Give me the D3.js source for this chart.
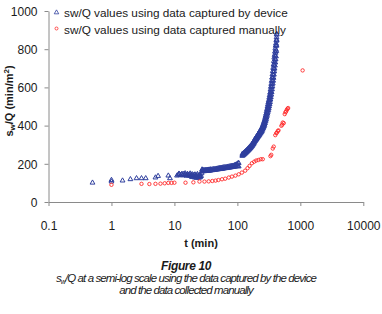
<!DOCTYPE html>
<html>
<head>
<meta charset="utf-8">
<script src="https://cdn.jsdelivr.net/npm/d3@7"></script>
<style>
  html, body { margin: 0; padding: 0; background: #ffffff; }
  svg { display: block; }
</style>
</head>
<body>
<div id="chart"></div>
<script>
// ---------------- DATA ----------------
const seriesNames = ["sw/Q values using data captured by device", "sw/Q values using data captured manually"];
const xTickValues = [0.1, 1, 10, 100, 1000, 10000];
const xTickLabels = ["0.1", "1", "10", "100", "1000", "10000"];
const yTickValues = [0, 200, 400, 600, 800, 1000];
const yTickLabels = ["0", "200", "400", "600", "800", "1000"];

// Device: early sparse readings
const deviceT1 = [0.5, 1, 1, 1.5, 2, 2.5, 3, 3.5, 5, 5.5, 8, 8.5];
const deviceV1 = [101, 107, 115, 112, 119, 124, 124, 124, 128, 136, 138, 124];

// Device: dense ragged readings 11-27 min
const deviceT2 = [11, 11.5, 11.8, 12, 12.5, 13, 13.2, 13.5, 14, 14.5, 14.8, 15, 15.5, 16, 16.2, 16.5, 17, 17.5, 17.8, 18, 18.5, 19, 19.2, 19.5, 20, 20.5, 21, 21.2, 21.5, 22, 22.5, 23, 23.2, 23.5, 24, 24.5, 25, 25.2, 25.5, 26, 26.5, 27];
const deviceV2 = [138, 142, 148, 145, 140, 144, 147, 139, 146, 141, 150, 143, 137, 145, 146, 140, 138, 144, 149, 136, 141, 130, 145, 139, 134, 142, 128, 144, 137, 132, 126, 140, 146, 131, 135, 127, 138, 143, 129, 133, 136, 150];

// Device: first rising band 27-105 min (upper and lower rows of readings)
const deviceT3 = [27.5, 28, 29, 30, 31, 32, 33, 34, 35, 36, 37, 38, 40, 42, 44, 46, 48, 50, 52, 54, 56, 58, 60, 63, 66, 69, 72, 75, 78, 81, 84, 87, 90, 93, 96, 99, 102, 105];
const deviceV3a = [170, 168, 166, 166, 167, 167, 168, 168, 169, 169, 170, 170, 171, 172, 173, 174, 175, 176, 177, 178, 179, 180, 181, 182, 183, 184, 185, 186, 187, 188, 189, 190, 192, 194, 196, 198, 202, 204];
const deviceV3b = [162, 160, 161, 161, 162, 162, 163, 163, 164, 164, 165, 165, 166, 167, 168, 169, 170, 171, 172, 172, 173, 174, 175, 176, 177, 178, 179, 180, 181, 182, 183, 184, 185, 186, 187, 188, 187, 186];

// Device: second steep band 120-422 min (centre, upper-left and lower-right rows)
const deviceT4 = [120, 125, 130, 135, 140, 145, 150, 155, 160, 165, 170, 175, 180, 185, 190, 195, 200, 205, 210, 215, 220, 225, 230, 235, 240, 245, 250, 255, 260, 265, 270, 275, 280, 285, 290, 295, 300, 305, 310, 315, 320, 325, 330, 335, 340, 345, 350, 355, 360, 365, 370, 375, 380, 385, 390, 395, 400, 405, 410, 415, 419, 422];
const deviceV4a = [246, 250, 255, 260, 265, 270, 275, 280, 285, 290, 296, 302, 309, 316, 323, 328, 333, 338, 344, 350, 354, 359, 364, 369, 374, 379, 386, 393, 400, 407, 415, 425, 435, 445, 456, 467, 479, 490, 500, 510, 522, 534, 546, 560, 574, 588, 602, 618, 634, 650, 666, 682, 700, 718, 731, 748, 765, 781, 797, 822, 850, 876];
const deviceV4b = [252, 256, 261, 266, 271, 276, 281, 286, 291, 296, 302, 308, 315, 322, 329, 335, 340, 345, 351, 357, 362, 367, 373, 378, 383, 389, 396, 404, 412, 420, 429, 440, 451, 462, 474, 486, 499, 511, 522, 533, 546, 559, 572, 588, 603, 618, 634, 651, 668, 685, 702, 719, 738, 756, 770, 787, 803, 818, 830, 845, 862, 880];
const deviceV4c = [241, 245, 250, 255, 260, 265, 270, 275, 280, 285, 291, 296, 303, 310, 317, 322, 327, 332, 338, 343, 347, 352, 357, 362, 366, 371, 378, 384, 390, 397, 404, 413, 422, 431, 441, 451, 462, 472, 481, 490, 501, 512, 523, 536, 549, 562, 575, 590, 605, 620, 635, 650, 667, 684, 698, 714, 730, 746, 762, 790, 818, 845];

// Manual readings
const manualT = [1, 3, 4, 5, 6, 7, 8, 9, 10, 15, 20, 25, 30, 35, 40, 45, 50, 57, 64, 73, 82, 93, 105, 118, 133, 145, 156, 170, 185, 199, 216, 235, 253, 335, 345, 365, 378, 400, 415, 425, 440, 450, 500, 515, 525, 545, 565, 580, 595, 610, 625, 640, 1087];
const manualV = [90, 95, 94, 95, 96, 98, 100, 100, 101, 101, 103, 107, 107, 108, 110, 112, 115, 119, 122, 128, 133, 138, 145, 154, 164, 177, 189, 203, 211, 217, 220, 224, 224, 240, 247, 280, 290, 350, 360, 364, 372, 375, 399, 405, 416, 413, 460, 470, 474, 483, 488, 492, 689];

// ---------------- BUILD ----------------
function pairs(ts, vs) { return ts.map((t, i) => ({ t: t, v: vs[i] })); }
const deviceData = [].concat(
  pairs(deviceT1, deviceV1),
  pairs(deviceT2, deviceV2),
  pairs(deviceT3, deviceV3a),
  pairs(deviceT3, deviceV3b),
  pairs(deviceT4, deviceV4a),
  pairs(deviceT4, deviceV4b),
  pairs(deviceT4, deviceV4c)
);
const manualData = pairs(manualT, manualV);

const W = 382, H = 314;
const blue = "#2f3f9e", red = "#ff2a2a", axisCol = "#8a8a8a";
const svg = d3.select("#chart").append("svg").attr("width", W).attr("height", H)
  .style("font-family", "'Liberation Sans', Arial, sans-serif");

const x = d3.scaleLog().domain([0.1, 10000]).range([48.5, 363.3]);
const y = d3.scaleLinear().domain([0, 1000]).range([202, 11]);

// axes
const xAxis = d3.axisBottom(x).tickValues(xTickValues).tickFormat((d, i) => xTickLabels[i]).tickSize(4).tickSizeOuter(0);
const yAxis = d3.axisLeft(y).tickValues(yTickValues).tickFormat((d, i) => yTickLabels[i]).tickSize(4).tickSizeOuter(0);

const gx = svg.append("g").attr("transform", "translate(0,202)").call(xAxis);
const gy = svg.append("g").attr("transform", "translate(48.5,0)").call(yAxis);
[gx, gy].forEach(g => {
  g.select(".domain").attr("stroke", axisCol).attr("stroke-width", 1);
  g.selectAll(".tick line").attr("stroke", axisCol);
  g.selectAll(".tick text").attr("fill", "#1a1a1a").style("font-size", "12px")
    .style("font-family", "'Liberation Sans', Arial, sans-serif");
});
gx.selectAll(".tick text").attr("dy", "0").attr("y", 28);
gy.selectAll(".tick text").attr("x", -11).attr("dy", "0.36em");

// data marks
const tri = d3.symbol().type(d3.symbolTriangle).size(10);
svg.append("g").selectAll("path").data(deviceData).join("path")
  .attr("d", tri)
  .attr("transform", d => `translate(${x(d.t)},${y(d.v)})`)
  .attr("fill", "none").attr("stroke", blue).attr("stroke-width", 1);

svg.append("g").selectAll("circle").data(manualData).join("circle")
  .attr("cx", d => x(d.t)).attr("cy", d => y(d.v)).attr("r", 1.7)
  .attr("fill", "none").attr("stroke", red).attr("stroke-width", 0.9);

// legend
const leg = svg.append("g");
leg.append("path").attr("d", d3.symbol().type(d3.symbolTriangle).size(9))
  .attr("transform", "translate(56.5,12.5)").attr("fill", "none").attr("stroke", blue).attr("stroke-width", 0.8);
leg.append("circle").attr("cx", 56.5).attr("cy", 28.5).attr("r", 1.5)
  .attr("fill", "none").attr("stroke", red).attr("stroke-width", 0.8);
leg.selectAll("text").data(seriesNames).join("text")
  .attr("x", 64).attr("y", (d, i) => 17 + i * 16.5)
  .style("font-size", "11.5px").attr("fill", "#1a1a1a")
  .text(d => d);

function fit(sel, target) {
  const node = sel.node();
  const fs = parseFloat(sel.style("font-size"));
  const w = node.getComputedTextLength();
  if (w > 0) sel.style("font-size", (fs * target / w).toFixed(2) + "px");
}
function fitSpacing(sel, target, nChars) {
  const w = sel.node().getComputedTextLength();
  if (w > 0) sel.style("letter-spacing", ((target - w) / nChars).toFixed(3) + "px");
}
leg.selectAll("text").each(function (d, i) { fit(d3.select(this), i === 0 ? 224 : 222); });

// axis titles
const yt = svg.append("text")
  .attr("transform", "translate(13,101) rotate(-90)")
  .attr("text-anchor", "middle").style("font-size", "11px").style("font-weight", "bold").attr("fill", "#1a1a1a");
yt.append("tspan").text("s");
yt.append("tspan").attr("dy", "2").style("font-size", "8px").text("w");
yt.append("tspan").attr("dy", "-2").text("/Q (min/m");
yt.append("tspan").attr("dy", "-4").style("font-size", "8px").text("2");
yt.append("tspan").attr("dy", "4").text(")");

svg.append("text").attr("x", 201).attr("y", 247).attr("text-anchor", "middle")
  .style("font-size", "11px").style("font-weight", "bold").attr("fill", "#1a1a1a").text("t (min)");

// caption
const capFont = "'Liberation Sans Narrow', 'Liberation Sans', sans-serif";
const fig = svg.append("text").attr("x", 186).attr("y", 270).attr("text-anchor", "middle")
  .style("font-family", "'Liberation Sans', sans-serif").style("font-size", "12px").style("font-weight", "bold").style("font-style", "italic")
  .attr("fill", "#1a1a1a").text("Figure 10");
fitSpacing(fig, 50, 9);

const line1 = "/Q at a semi-log scale using the data captured by the device";
const c1 = svg.append("text").attr("x", 186).attr("y", 282).attr("text-anchor", "middle")
  .style("font-family", capFont).style("font-size", "11.5px").style("font-style", "italic").attr("fill", "#1a1a1a");
c1.append("tspan").text("s");
c1.append("tspan").attr("dy", "2").style("font-size", "7px").text("w");
c1.append("tspan").attr("dy", "-2").text(line1);
fitSpacing(c1, 260, line1.length + 2);

const line2 = "and the data collected manually";
const c2 = svg.append("text").attr("x", 186).attr("y", 294).attr("text-anchor", "middle")
  .style("font-family", capFont).style("font-size", "11.5px").style("font-style", "italic")
  .attr("fill", "#1a1a1a").text(line2);
c2.style("letter-spacing", c1.style("letter-spacing"));
</script>
</body>
</html>
